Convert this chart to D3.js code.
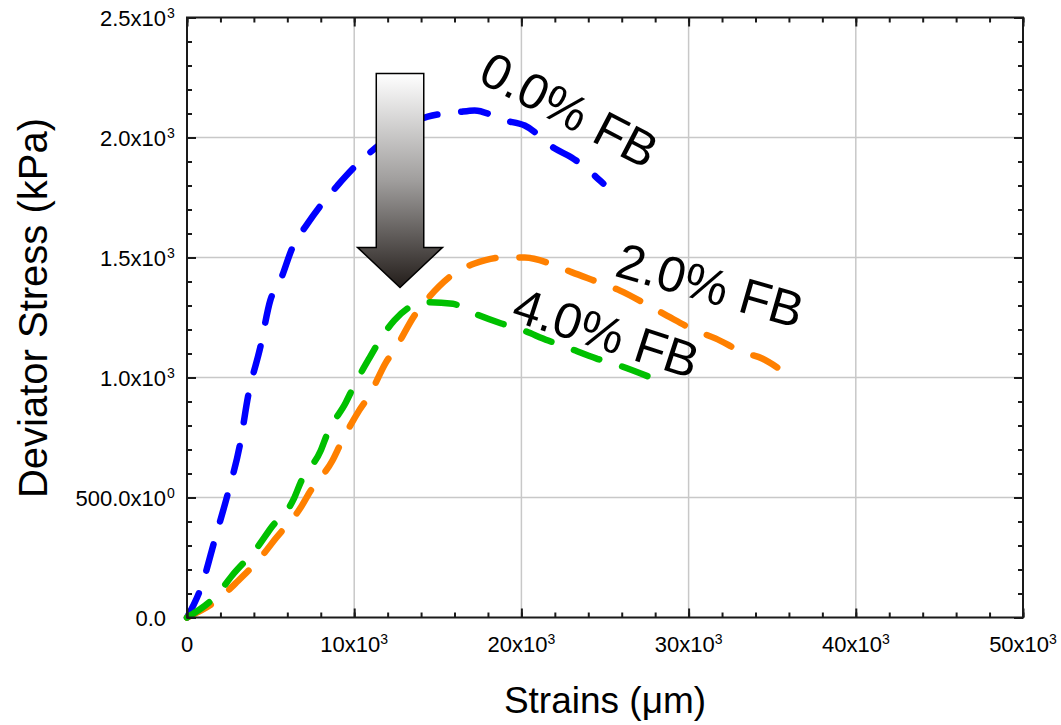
<!DOCTYPE html>
<html>
<head>
<meta charset="utf-8">
<script src="https://cdn.jsdelivr.net/npm/d3@7/dist/d3.min.js"></script>
<style>
  body { margin: 0; background: #fff; }
  svg text { font-family: 'Liberation Sans', Arial, sans-serif; fill: #000; }
</style>
</head>
<body>
<div id="chart"></div>
<script>
// strain in micro-metres, stress in kPa
const fb0Strain = [0, 880, 1680, 2460, 3180, 3660, 4380, 4980, 5580, 6300, 7200, 8000, 9000, 10100, 11500, 12800, 14400, 16200, 17200, 19000, 20200, 22000, 23000, 24900];
const fb0Stress = [0, 133, 329, 521, 725, 925, 1125, 1321, 1404, 1540, 1640, 1717, 1800, 1883, 1970, 2040, 2087, 2105, 2113, 2071, 2050, 1954, 1917, 1808];

const fb2Strain = [0, 2000, 2900, 4500, 5300, 6800, 7400, 8700, 9200, 10300, 10900, 11900, 12500, 13600, 14400, 16100, 17200, 19000, 20200, 22000, 23000, 24800, 25900, 27600, 28700, 30400, 31600, 33300, 34400, 35300];
const fb2Stress = [0, 83, 142, 258, 329, 458, 529, 654, 725, 863, 925, 1063, 1125, 1258, 1329, 1439, 1475, 1501, 1500, 1467, 1439, 1392, 1362, 1300, 1258, 1196, 1163, 1104, 1079, 1042];

const fb4Strain = [0, 1860, 2700, 4200, 5000, 6400, 6800, 8000, 8400, 9500, 10000, 11000, 11600, 12400, 13200, 14100, 15900, 17000, 18800, 19800, 21600, 22700, 24500, 25500, 27600];
const fb4Stress = [0, 100, 175, 292, 371, 496, 563, 696, 767, 896, 967, 1092, 1163, 1238, 1288, 1314, 1307, 1272, 1225, 1204, 1154, 1126, 1079, 1058, 1004];

const seriesNames = ['0.0% FB', '2.0% FB', '4.0% FB'];
const seriesColors = ['#0000ff', '#ff8000', '#00c000'];

const xTicks = [0, 10000, 20000, 30000, 40000, 50000];
const xTickLabels = [['0', ''], ['10x10', '3'], ['20x10', '3'], ['30x10', '3'], ['40x10', '3'], ['50x10', '3']];
const yTicks = [0, 500, 1000, 1500, 2000, 2500];
const yTickLabels = [['0.0', ''], ['500.0x10', '0'], ['1.0x10', '3'], ['1.5x10', '3'], ['2.0x10', '3'], ['2.5x10', '3']];

// label anchor (strain, stress) and rotation in degrees
const labelStrain = [17300, 25500, 19300];
const labelStress = [2235, 1425, 1240];
const labelAngle = [27.5, 16, 18];

// arrow: centre strain, top / head base / tip stress, half widths in strain
const arrowStrain = 12740;
const arrowStress = [2267, 1542, 1375];
const arrowHalfWidth = [1420, 2540];

const width = 1061;
const height = 725;
const margin = { left: 187, right: 38, top: 17.5, bottom: 107.5 };

const svg = d3.select('#chart').append('svg')
    .attr('width', width)
    .attr('height', height);

const x = d3.scaleLinear().domain([0, 50000]).range([margin.left, width - margin.right]);
const y = d3.scaleLinear().domain([0, 2500]).range([height - margin.bottom, margin.top]);

// grid
svg.append('g')
    .selectAll('line')
    .data(xTicks.slice(1, -1))
    .enter().append('line')
    .attr('x1', d => x(d)).attr('x2', d => x(d))
    .attr('y1', y(0)).attr('y2', y(2500))
    .attr('stroke', '#c8c8c8').attr('stroke-width', 1.5);
svg.append('g')
    .selectAll('line')
    .data(yTicks.slice(1, -1))
    .enter().append('line')
    .attr('y1', d => y(d)).attr('y2', d => y(d))
    .attr('x1', x(0)).attr('x2', x(50000))
    .attr('stroke', '#c8c8c8').attr('stroke-width', 1.5);

// curves
const strains = [fb0Strain, fb2Strain, fb4Strain];
const stresses = [fb0Stress, fb2Stress, fb4Stress];
const line = d3.line()
    .x(d => x(d[0]))
    .y(d => y(d[1]))
    .curve(d3.curveMonotoneX);

seriesNames.forEach(function (name, i) {
    const pts = strains[i].map((s, j) => [s, stresses[i][j]]);
    svg.append('path')
        .datum(pts)
        .attr('d', line)
        .attr('fill', 'none')
        .attr('stroke', seriesColors[i])
        .attr('stroke-width', 6.5)
        .attr('stroke-linecap', 'round')
        .attr('stroke-dasharray', '27 24');
});

// axes (ticks point inward on all four sides)
const xMinor = d3.range(0, 50001, 2000);
const yMinor = d3.range(0, 2501, 100);

function addAxis(axisFn, scale, transform, values, size) {
    const g = svg.append('g')
        .attr('transform', transform)
        .call(axisFn(scale).tickValues(values).tickSize(size).tickFormat(''));
    g.select('.domain').remove();
    g.selectAll('line').attr('stroke', '#1a1a1a').attr('stroke-width', 2);
}

addAxis(d3.axisBottom, x, 'translate(0,' + y(0) + ')', xMinor, -5);
addAxis(d3.axisBottom, x, 'translate(0,' + y(0) + ')', xTicks, -9);
addAxis(d3.axisTop, x, 'translate(0,' + y(2500) + ')', xMinor, -5);
addAxis(d3.axisTop, x, 'translate(0,' + y(2500) + ')', xTicks, -9);
addAxis(d3.axisLeft, y, 'translate(' + x(0) + ',0)', yMinor, -5);
addAxis(d3.axisLeft, y, 'translate(' + x(0) + ',0)', yTicks, -9);
addAxis(d3.axisRight, y, 'translate(' + x(50000) + ',0)', yMinor, -5);
addAxis(d3.axisRight, y, 'translate(' + x(50000) + ',0)', yTicks, -9);

svg.append('rect')
    .attr('x', x(0)).attr('y', y(2500))
    .attr('width', x(50000) - x(0))
    .attr('height', y(0) - y(2500))
    .attr('fill', 'none')
    .attr('stroke', '#1a1a1a')
    .attr('stroke-width', 2);

// tick labels
const xl = svg.append('g').selectAll('text')
    .data(xTicks)
    .enter().append('text')
    .attr('x', d => x(d))
    .attr('y', y(0) + 34)
    .attr('text-anchor', 'middle')
    .style('font-size', '22px');
xl.append('tspan').text((d, i) => xTickLabels[i][0]);
xl.append('tspan').attr('dy', -8).style('font-size', '14px').text((d, i) => xTickLabels[i][1]);

svg.append('g').selectAll('text')
    .data(yTicks)
    .enter().append('text')
    .attr('x', x(0) - 21)
    .attr('y', d => y(d) + 8)
    .attr('text-anchor', 'end')
    .style('font-size', '22px')
    .text((d, i) => yTickLabels[i][0]);
svg.append('g').selectAll('text')
    .data(yTicks)
    .enter().append('text')
    .attr('x', x(0) - 20)
    .attr('y', d => y(d))
    .style('font-size', '14px')
    .text((d, i) => yTickLabels[i][1]);

// axis titles
svg.append('text')
    .attr('x', (x(0) + x(50000)) / 2)
    .attr('y', 713)
    .attr('text-anchor', 'middle')
    .style('font-size', '37px')
    .text('Strains (\u03bcm)');
svg.append('text')
    .attr('transform', 'translate(47,' + 308 + ') rotate(-90)')
    .attr('text-anchor', 'middle')
    .style('font-size', '40px')
    .text('Deviator Stress (kPa)');

// arrow
const grad = svg.append('defs').append('linearGradient')
    .attr('id', 'arrowGrad')
    .attr('x1', 0).attr('y1', 0).attr('x2', 0).attr('y2', 1);
grad.append('stop').attr('offset', '0%').attr('stop-color', '#ffffff');
grad.append('stop').attr('offset', '50%').attr('stop-color', '#a09e9d');
grad.append('stop').attr('offset', '100%').attr('stop-color', '#231d1a');

const arrowPts = [
    [arrowStrain - arrowHalfWidth[0], arrowStress[0]],
    [arrowStrain + arrowHalfWidth[0], arrowStress[0]],
    [arrowStrain + arrowHalfWidth[0], arrowStress[1]],
    [arrowStrain + arrowHalfWidth[1], arrowStress[1]],
    [arrowStrain, arrowStress[2]],
    [arrowStrain - arrowHalfWidth[1], arrowStress[1]],
    [arrowStrain - arrowHalfWidth[0], arrowStress[1]]
];
svg.append('path')
    .attr('d', d3.line().x(d => x(d[0])).y(d => y(d[1]))(arrowPts) + 'Z')
    .attr('fill', 'url(#arrowGrad)')
    .attr('stroke', '#000')
    .attr('stroke-width', 1.5);

// series labels
svg.append('g').selectAll('text')
    .data(seriesNames)
    .enter().append('text')
    .attr('transform', (d, i) => 'translate(' + x(labelStrain[i]) + ',' + y(labelStress[i]) + ') rotate(' + labelAngle[i] + ')')
    .style('font-size', '50px')
    .text(d => d);
</script>
</body>
</html>
